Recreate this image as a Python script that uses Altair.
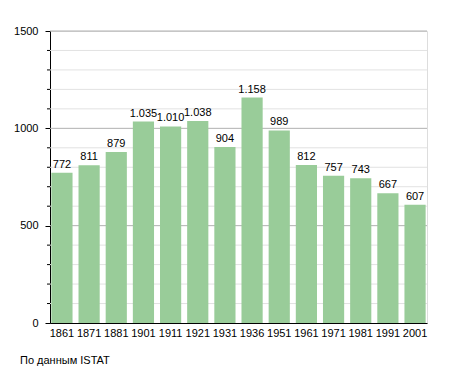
import altair as alt
import pandas as pd

years = ["1861", "1871", "1881", "1901", "1911", "1921", "1931", "1936", "1951", "1961", "1971", "1981", "1991", "2001"]
population = [772, 811, 879, 1035, 1010, 1038, 904, 1158, 989, 812, 757, 743, 667, 607]
labels = [f"{v:,}".replace(",", ".") for v in population]
major_ticks = [0, 500, 1000, 1500]
minor_ticks = [v for v in range(0, 1501, 100) if v % 500 != 0]
caption = "По данным  ISTAT"

df = pd.DataFrame({"year": years, "pop": population, "label": labels})
df_minor = pd.DataFrame({"v": minor_ticks})
df_major = pd.DataFrame({"v": major_ticks[1:]})

W, H = 377, 292
FONT = "Liberation Sans"

yscale = alt.Scale(domain=[0, 1500], nice=False)
yaxis = alt.Axis(title=None, values=major_ticks, grid=False, format="d",
                 labelOverlap=False, tickSize=5,
                 tickColor="black", domainColor="black",
                 labelColor="black", labelFont=FONT, labelFontSize=11,
                 labelPadding=7)

minor_grid = alt.Chart(df_minor).mark_rule(color="#e2e2e2", strokeWidth=1).encode(
    y=alt.Y("v:Q", scale=yscale, axis=yaxis), x=alt.value(0), x2=alt.value(W))
major_grid = alt.Chart(df_major).mark_rule(color="#b0b0b0", strokeWidth=1).encode(
    y=alt.Y("v:Q", scale=yscale, axis=yaxis), x=alt.value(0), x2=alt.value(W))
minor_tick = alt.Chart(df_minor).mark_rule(color="black", strokeWidth=1).encode(
    y=alt.Y("v:Q", scale=yscale, axis=yaxis), x=alt.value(-3), x2=alt.value(0))

x_enc = alt.X("year:N", sort=years,
              scale=alt.Scale(paddingInner=0.22, paddingOuter=0.05),
              axis=alt.Axis(title=None, labelAngle=0, ticks=False, domainColor="black",
                            labelColor="black", labelFont=FONT, labelFontSize=11,
                            labelPadding=4, grid=False))

bars = alt.Chart(df).mark_bar(color="#99cc99").encode(
    x=x_enc, y=alt.Y("pop:Q", scale=yscale, axis=yaxis))
text = alt.Chart(df).mark_text(baseline="bottom", dy=-3, font=FONT, fontSize=11, color="black").encode(
    x=alt.X("year:N", sort=years), y=alt.Y("pop:Q", scale=yscale, axis=yaxis), text="label:N")
cap = alt.Chart(pd.DataFrame({"t": [caption]})).mark_text(
    align="left", baseline="middle", font=FONT, fontSize=11, color="black").encode(
    x=alt.value(-30), y=alt.value(H + 38), text="t:N")

chart = alt.layer(minor_grid, major_grid, minor_tick, bars, text, cap).properties(
    width=W, height=H,
    autosize=alt.AutoSizeParams(type="none"),
    padding={"left": 42, "top": 23, "right": 20, "bottom": 50},
).configure_view(stroke=None).configure(background="white")

chart.save("out.html", embed_options={"renderer": "svg", "actions": False})
